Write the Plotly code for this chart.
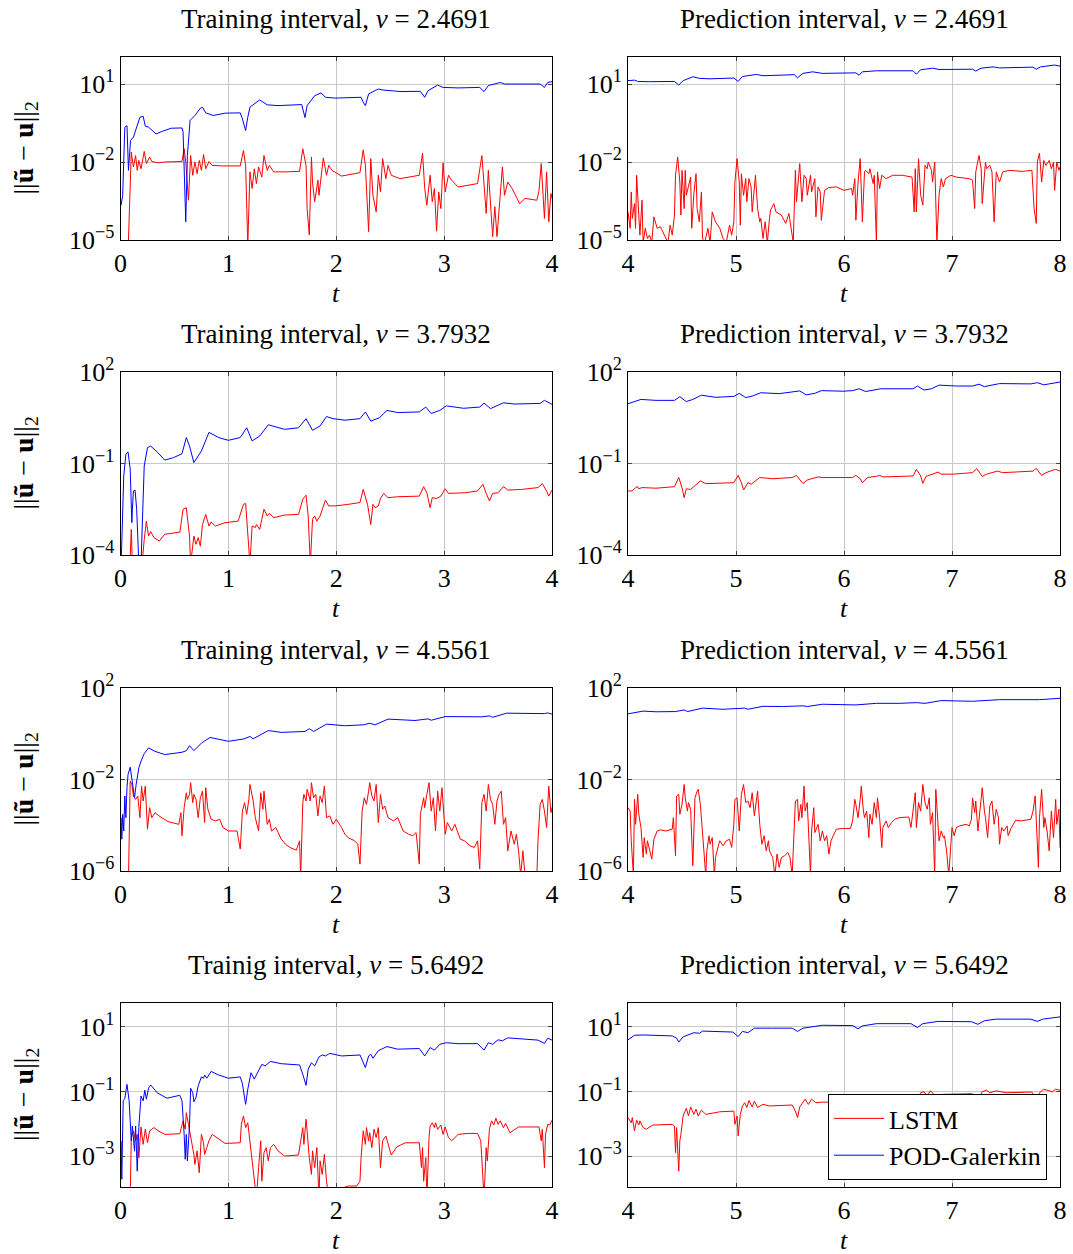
import plotly.graph_objects as go

# ---------------- data (t, log10 of error) ----------------
nu_values = ["2.4691", "3.7932", "4.5561", "5.6492"]
train_titles = ["Training interval", "Training interval", "Training interval", "Trainig interval"]
pred_title = "Prediction interval"
legend_names = ["LSTM", "POD-Galerkin"]

train1_pod = [(0.006,-3.66),(0.02,-3.28),(0.04,-0.66),(0.06,-0.6),(0.074,-2.32),(0.093,-1.17),(0.12,-1.04),(0.15,-0.66),(0.18,-0.28),(0.21,-0.24),(0.23,-0.62),(0.26,-0.66),(0.33,-0.92),(0.38,-0.83),(0.47,-0.70),(0.57,-0.69),(0.58,-0.85),(0.605,-4.30),(0.62,-1.75),(0.645,-0.40),(0.69,-0.21),(0.74,0.07),(0.76,0.11),(0.79,-0.11),(0.86,-0.21),(0.97,-0.12),(1.11,-0.11),(1.13,-0.34),(1.16,-0.79),(1.18,-0.28),(1.20,0.11),(1.29,0.39),(1.36,0.20),(1.46,0.17),(1.68,0.21),(1.69,0.04),(1.71,-0.29),(1.73,0.17),(1.80,0.55),(1.86,0.66),(1.90,0.49),(1.99,0.46),(2.23,0.49),(2.25,0.30),(2.27,0.17),(2.30,0.62),(2.39,0.81),(2.43,0.77),(2.60,0.71),(2.78,0.72),(2.82,0.49),(2.85,0.74),(2.94,0.96),(2.99,0.87),(3.13,0.85),(3.33,0.87),(3.37,0.71),(3.41,0.94),(3.52,1.06),(3.56,1.0),(3.89,1.0),(3.93,0.87),(3.96,1.06),(4.0,1.09)]
train1_lstm = [(0.07,-5.5),(0.1,-1.62),(0.12,-2.19),(0.14,-1.75),(0.155,-2.32),(0.17,-1.94),(0.19,-2.26),(0.22,-1.59),(0.24,-2.06),(0.27,-1.81),(0.29,-1.98),(0.35,-2.03),(0.41,-2.0),(0.57,-1.98),(0.59,-1.49),(0.605,-2.0),(0.63,-3.47),(0.65,-1.75),(0.67,-2.51),(0.69,-2.0),(0.71,-2.45),(0.73,-1.94),(0.75,-2.32),(0.77,-1.71),(0.79,-2.26),(0.82,-1.98),(0.85,-2.13),(0.94,-2.15),(1.11,-2.15),(1.14,-1.55),(1.16,-2.13),(1.18,-5.2),(1.20,-2.38),(1.22,-3.02),(1.24,-2.26),(1.26,-2.83),(1.28,-2.19),(1.31,-2.58),(1.33,-1.75),(1.36,-2.32),(1.38,-2.13),(1.42,-2.38),(1.52,-2.38),(1.66,-2.36),(1.69,-1.49),(1.72,-2.13),(1.73,-3.79),(1.75,-4.81),(1.77,-1.81),(1.78,-2.77),(1.80,-3.53),(1.83,-2.70),(1.84,-3.28),(1.86,-2.51),(1.88,-1.84),(1.91,-2.51),(1.93,-2.13),(1.96,-2.32),(2.05,-2.54),(2.22,-2.41),(2.25,-1.53),(2.27,-2.13),(2.29,-3.53),(2.30,-4.68),(2.32,-1.87),(2.34,-3.28),(2.37,-3.92),(2.39,-2.51),(2.41,-3.15),(2.43,-1.87),(2.46,-2.64),(2.48,-2.13),(2.51,-2.51),(2.59,-2.64),(2.77,-2.51),(2.80,-1.66),(2.82,-3.02),(2.84,-3.66),(2.87,-2.51),(2.89,-3.53),(2.91,-3.02),(2.93,-4.66),(2.95,-3.15),(2.97,-3.79),(2.99,-2.03),(3.01,-3.15),(3.04,-2.51),(3.07,-2.70),(3.13,-2.96),(3.31,-2.83),(3.35,-1.75),(3.37,-2.77),(3.39,-3.98),(3.41,-2.32),(3.43,-3.53),(3.45,-4.87),(3.47,-3.72),(3.49,-4.87),(3.52,-3.28),(3.54,-2.19),(3.56,-3.28),(3.59,-2.77),(3.63,-3.02),(3.70,-3.60),(3.75,-3.40),(3.86,-3.47),(3.88,-3.09),(3.90,-2.06),(3.93,-4.17),(3.95,-2.38),(3.97,-4.30),(3.99,-3.21),(4.0,-3.40)]

pred1_pod = [(4.0,1.13),(4.06,1.15),(4.09,1.10),(4.20,1.09),(4.43,1.10),(4.47,0.96),(4.51,1.13),(4.60,1.28),(4.66,1.22),(4.75,1.20),(4.98,1.23),(5.02,1.10),(5.06,1.29),(5.19,1.37),(5.25,1.32),(5.54,1.36),(5.57,1.24),(5.62,1.41),(5.71,1.47),(5.80,1.41),(6.11,1.43),(6.14,1.34),(6.17,1.47),(6.30,1.51),(6.64,1.51),(6.67,1.38),(6.71,1.55),(6.82,1.61),(6.88,1.56),(7.19,1.57),(7.22,1.50),(7.27,1.61),(7.38,1.66),(7.44,1.62),(7.75,1.65),(7.78,1.57),(7.82,1.66),(7.95,1.73),(8.0,1.69)]
pred1_lstm = [(4.0,-3.92),(4.02,-4.55),(4.03,-3.15),(4.04,-4.17),(4.06,-3.60),(4.07,-4.55),(4.08,-2.51),(4.10,-3.92),(4.11,-4.81),(4.13,-3.47),(4.14,-5.1),(4.16,-4.55),(4.18,-4.94),(4.20,-4.81),(4.22,-5.1),(4.24,-4.11),(4.27,-4.55),(4.30,-4.49),(4.34,-4.81),(4.37,-5.1),(4.39,-4.43),(4.41,-4.81),(4.43,-4.04),(4.44,-2.51),(4.46,-1.81),(4.48,-2.77),(4.49,-4.04),(4.50,-2.32),(4.52,-3.79),(4.53,-2.32),(4.54,-3.28),(4.56,-2.90),(4.58,-2.58),(4.59,-4.55),(4.61,-3.21),(4.63,-2.45),(4.64,-3.79),(4.66,-4.30),(4.68,-3.15),(4.69,-4.94),(4.71,-5.1),(4.74,-4.55),(4.76,-5.1),(4.78,-3.92),(4.81,-4.30),(4.85,-4.55),(4.88,-4.94),(4.91,-5.1),(4.94,-4.43),(4.96,-4.81),(4.98,-4.30),(4.99,-2.77),(5.01,-1.87),(5.03,-2.77),(5.04,-4.43),(5.05,-2.45),(5.07,-3.28),(5.09,-2.64),(5.10,-3.53),(5.12,-2.64),(5.14,-2.96),(5.15,-3.92),(5.17,-2.70),(5.18,-2.51),(5.20,-3.79),(5.22,-4.30),(5.23,-4.17),(5.25,-4.94),(5.27,-4.30),(5.29,-5.1),(5.31,-4.17),(5.32,-3.85),(5.35,-3.60),(5.37,-3.92),(5.42,-4.04),(5.46,-4.36),(5.49,-3.98),(5.51,-4.55),(5.53,-5.1),(5.55,-2.32),(5.56,-3.53),(5.59,-2.06),(5.61,-3.53),(5.63,-2.51),(5.65,-2.64),(5.66,-3.28),(5.69,-2.51),(5.70,-3.15),(5.73,-2.64),(5.74,-4.11),(5.76,-2.96),(5.78,-3.15),(5.79,-4.24),(5.82,-3.09),(5.86,-2.98),(5.93,-2.96),(6.0,-3.09),(6.07,-3.02),(6.08,-3.28),(6.10,-2.64),(6.11,-4.24),(6.13,-2.77),(6.15,-1.87),(6.17,-4.30),(6.19,-2.38),(6.20,-2.32),(6.23,-2.45),(6.24,-2.26),(6.27,-2.83),(6.28,-2.51),(6.30,-5.1),(6.31,-2.38),(6.33,-3.02),(6.35,-2.51),(6.39,-2.64),(6.45,-2.51),(6.54,-2.51),(6.63,-2.58),(6.65,-3.92),(6.66,-2.26),(6.67,-3.92),(6.69,-1.87),(6.71,-3.28),(6.73,-3.66),(6.75,-2.13),(6.77,-2.26),(6.78,-2.0),(6.81,-2.32),(6.82,-2.77),(6.84,-2.0),(6.86,-5.1),(6.88,-3.28),(6.90,-2.64),(6.92,-2.96),(6.94,-2.64),(6.99,-2.51),(7.04,-2.58),(7.16,-2.64),(7.19,-2.70),(7.21,-3.79),(7.22,-2.38),(7.25,-1.75),(7.27,-2.26),(7.28,-3.60),(7.31,-2.0),(7.32,-2.26),(7.35,-2.13),(7.37,-2.38),(7.39,-4.30),(7.41,-2.38),(7.44,-2.77),(7.47,-2.38),(7.53,-2.32),(7.65,-2.36),(7.74,-2.32),(7.76,-3.79),(7.78,-4.36),(7.79,-2.0),(7.81,-1.66),(7.83,-2.77),(7.85,-1.94),(7.87,-2.13),(7.90,-1.94),(7.92,-2.26),(7.94,-2.0),(7.95,-3.09),(7.97,-2.0),(7.99,-2.32),(8.0,-2.19)]

train2_pod = [(0.006,-4.3),(0.03,-1.41),(0.05,-0.70),(0.07,-0.62),(0.09,-1.19),(0.105,-2.94),(0.11,-2.50),(0.12,-1.90),(0.135,-1.87),(0.15,-2.50),(0.17,-4.3),(0.19,-4.3),(0.22,-1.08),(0.25,-0.48),(0.28,-0.43),(0.34,-0.62),(0.41,-0.89),(0.49,-0.81),(0.57,-0.68),(0.61,-0.15),(0.64,-0.43),(0.68,-0.97),(0.75,-0.59),(0.82,0.02),(0.91,-0.15),(1.0,-0.24),(1.11,-0.15),(1.17,0.17),(1.22,-0.26),(1.29,-0.10),(1.37,0.27),(1.52,0.12),(1.65,0.17),(1.72,0.47),(1.78,0.09),(1.85,0.23),(1.91,0.54),(1.97,0.47),(2.08,0.42),(2.22,0.47),(2.27,0.69),(2.32,0.39),(2.40,0.50),(2.47,0.74),(2.57,0.67),(2.77,0.69),(2.83,0.85),(2.88,0.64),(2.96,0.74),(3.02,0.89),(3.18,0.81),(3.33,0.85),(3.37,0.98),(3.43,0.80),(3.55,0.99),(3.65,0.95),(3.89,0.97),(3.93,1.07),(4.0,0.94)]
train2_lstm = [(0.087,-4.3),(0.10,-3.16),(0.11,-4.3),(0.20,-4.3),(0.22,-3.49),(0.24,-2.89),(0.26,-3.38),(0.28,-3.23),(0.31,-3.43),(0.36,-3.54),(0.41,-3.32),(0.55,-3.25),(0.58,-2.50),(0.61,-2.45),(0.64,-3.38),(0.65,-4.3),(0.68,-3.38),(0.70,-3.65),(0.72,-3.43),(0.74,-3.71),(0.76,-3.0),(0.79,-2.67),(0.82,-3.05),(0.84,-2.92),(0.88,-3.05),(0.97,-2.94),(1.09,-2.89),(1.14,-2.34),(1.16,-2.31),(1.18,-3.16),(1.20,-4.3),(1.22,-3.05),(1.25,-3.10),(1.26,-3.0),(1.29,-3.16),(1.31,-2.83),(1.33,-2.50),(1.36,-2.72),(1.38,-2.63),(1.42,-2.78),(1.52,-2.69),(1.65,-2.67),(1.69,-2.17),(1.72,-2.04),(1.74,-2.72),(1.76,-4.3),(1.78,-2.83),(1.80,-2.72),(1.82,-2.89),(1.85,-2.72),(1.88,-2.42),(1.90,-2.20),(1.93,-2.39),(1.99,-2.39),(2.11,-2.34),(2.22,-2.28),(2.25,-1.85),(2.29,-2.34),(2.32,-3.0),(2.34,-2.34),(2.36,-2.45),(2.39,-2.39),(2.41,-2.15),(2.44,-1.98),(2.48,-2.12),(2.57,-2.09),(2.77,-2.07),(2.81,-1.76),(2.84,-1.96),(2.87,-2.45),(2.89,-2.12),(2.93,-2.15),(2.97,-2.07),(3.01,-1.83),(3.04,-1.98),(3.19,-1.96),(3.31,-1.90),(3.36,-1.68),(3.39,-1.98),(3.42,-2.23),(3.45,-1.98),(3.50,-1.96),(3.55,-1.76),(3.59,-1.87),(3.72,-1.85),(3.87,-1.79),(3.91,-1.66),(3.95,-1.90),(3.97,-2.07),(4.0,-1.87)]

pred2_pod = [(4.0,0.96),(4.06,1.02),(4.12,1.10),(4.26,1.07),(4.43,1.07),(4.48,1.19),(4.54,1.03),(4.60,1.10),(4.68,1.24),(4.81,1.17),(4.98,1.20),(5.03,1.30),(5.09,1.16),(5.15,1.21),(5.23,1.32),(5.40,1.29),(5.54,1.34),(5.59,1.38),(5.65,1.25),(5.73,1.30),(5.79,1.39),(5.99,1.37),(6.08,1.39),(6.14,1.45),(6.20,1.36),(6.34,1.45),(6.64,1.45),(6.68,1.54),(6.74,1.41),(6.81,1.45),(6.88,1.57),(7.04,1.54),(7.19,1.54),(7.25,1.60),(7.30,1.52),(7.44,1.62),(7.73,1.61),(7.79,1.65),(7.85,1.58),(7.93,1.62),(8.0,1.67)]
pred2_lstm = [(4.0,-1.90),(4.04,-1.90),(4.07,-1.79),(4.09,-1.76),(4.10,-1.83),(4.13,-1.79),(4.26,-1.81),(4.43,-1.76),(4.47,-1.46),(4.50,-1.79),(4.52,-2.12),(4.54,-1.83),(4.58,-1.85),(4.61,-1.76),(4.67,-1.57),(4.72,-1.66),(4.98,-1.63),(5.02,-1.39),(5.05,-1.63),(5.07,-1.87),(5.11,-1.63),(5.14,-1.68),(5.22,-1.46),(5.34,-1.50),(5.52,-1.46),(5.56,-1.39),(5.59,-1.52),(5.62,-1.66),(5.66,-1.54),(5.76,-1.44),(5.80,-1.46),(6.08,-1.46),(6.11,-1.39),(6.15,-1.50),(6.17,-1.63),(6.22,-1.46),(6.30,-1.42),(6.33,-1.39),(6.36,-1.44),(6.64,-1.41),(6.67,-1.19),(6.71,-1.41),(6.73,-1.65),(6.76,-1.42),(6.82,-1.35),(6.87,-1.28),(6.90,-1.35),(7.01,-1.35),(7.19,-1.30),(7.23,-1.17),(7.28,-1.42),(7.32,-1.35),(7.42,-1.25),(7.47,-1.30),(7.75,-1.25),(7.78,-1.16),(7.83,-1.39),(7.87,-1.30),(7.96,-1.19),(8.0,-1.25)]

train3_pod = [(0.006,-3.67),(0.012,-4.61),(0.02,-3.52),(0.03,-4.25),(0.04,-2.72),(0.05,-3.67),(0.06,-2.36),(0.07,-1.78),(0.09,-1.46),(0.11,-2.07),(0.13,-2.80),(0.145,-2.22),(0.17,-1.49),(0.19,-1.20),(0.22,-0.87),(0.26,-0.62),(0.32,-0.77),(0.41,-0.91),(0.57,-0.81),(0.61,-0.74),(0.64,-0.52),(0.68,-0.74),(0.75,-0.41),(0.83,-0.16),(0.91,-0.23),(1.0,-0.33),(1.14,-0.23),(1.20,-0.12),(1.23,-0.22),(1.37,0.14),(1.49,0.06),(1.71,0.10),(1.75,0.22),(1.79,0.10),(1.91,0.42),(2.08,0.35),(2.25,0.39),(2.31,0.46),(2.36,0.39),(2.48,0.64),(2.73,0.58),(2.85,0.65),(2.88,0.59),(3.01,0.75),(3.35,0.74),(3.42,0.78),(3.45,0.72),(3.58,0.90),(3.93,0.88),(3.96,0.91),(4.0,0.86)]
train3_lstm = [(0.074,-6.3),(0.09,-2.07),(0.105,-2.22),(0.12,-2.72),(0.14,-2.87),(0.16,-2.72),(0.18,-3.67),(0.195,-2.29),(0.21,-2.94),(0.23,-2.29),(0.25,-4.17),(0.27,-3.23),(0.29,-3.67),(0.32,-3.45),(0.35,-3.57),(0.40,-3.74),(0.44,-3.84),(0.54,-3.96),(0.56,-3.45),(0.57,-4.46),(0.59,-3.23),(0.61,-2.58),(0.62,-2.87),(0.64,-2.65),(0.65,-2.14),(0.67,-3.01),(0.68,-2.65),(0.70,-2.87),(0.72,-3.67),(0.74,-2.80),(0.76,-2.51),(0.78,-3.88),(0.79,-2.36),(0.81,-3.30),(0.84,-3.74),(0.88,-3.81),(0.92,-3.74),(0.95,-4.10),(1.0,-4.25),(1.08,-4.25),(1.11,-5.04),(1.13,-3.38),(1.15,-3.01),(1.17,-3.52),(1.19,-2.87),(1.20,-2.22),(1.22,-2.72),(1.23,-2.94),(1.25,-3.67),(1.28,-4.25),(1.30,-2.58),(1.32,-3.30),(1.33,-2.51),(1.36,-3.96),(1.38,-3.74),(1.40,-4.25),(1.44,-4.10),(1.46,-4.32),(1.49,-4.61),(1.53,-4.83),(1.57,-4.97),(1.63,-5.09),(1.66,-4.68),(1.67,-6.3),(1.69,-3.01),(1.70,-2.65),(1.72,-2.94),(1.73,-2.43),(1.76,-2.94),(1.77,-2.14),(1.79,-2.80),(1.81,-2.65),(1.83,-3.59),(1.85,-2.72),(1.87,-3.01),(1.89,-2.29),(1.91,-3.67),(1.94,-3.59),(1.97,-3.96),(2.0,-3.74),(2.05,-4.10),(2.08,-4.39),(2.11,-4.54),(2.17,-4.68),(2.20,-4.83),(2.22,-5.70),(2.24,-3.38),(2.26,-2.80),(2.28,-3.09),(2.30,-2.51),(2.31,-2.14),(2.33,-2.72),(2.35,-2.94),(2.37,-2.22),(2.39,-3.88),(2.41,-2.65),(2.43,-3.30),(2.45,-3.16),(2.48,-3.67),(2.53,-3.81),(2.57,-3.67),(2.62,-4.25),(2.67,-4.39),(2.71,-4.46),(2.74,-4.32),(2.77,-5.70),(2.78,-3.52),(2.81,-2.80),(2.82,-3.23),(2.84,-2.65),(2.86,-2.14),(2.88,-3.38),(2.90,-2.80),(2.92,-4.25),(2.94,-2.51),(2.96,-3.38),(2.98,-2.36),(3.01,-4.39),(3.03,-3.88),(3.07,-4.25),(3.10,-3.96),(3.15,-4.61),(3.19,-4.68),(3.24,-4.90),(3.28,-4.97),(3.31,-4.68),(3.33,-5.91),(3.35,-3.01),(3.37,-2.65),(3.39,-3.38),(3.41,-2.22),(3.43,-2.87),(3.45,-3.09),(3.47,-3.96),(3.49,-2.94),(3.51,-2.65),(3.53,-2.51),(3.55,-3.96),(3.57,-3.67),(3.59,-5.12),(3.62,-4.25),(3.65,-4.83),(3.67,-4.39),(3.69,-5.12),(3.71,-6.2),(3.73,-5.12),(3.75,-6.2),(3.86,-6.2),(3.87,-4.68),(3.89,-3.09),(3.91,-2.87),(3.93,-3.38),(3.95,-4.10),(3.97,-2.29),(3.99,-3.45),(4.0,-3.23)]

pred3_pod = [(4.0,0.87),(4.14,0.99),(4.26,0.96),(4.44,0.97),(4.52,1.04),(4.55,0.97),(4.69,1.12),(4.88,1.07),(5.0,1.10),(5.08,1.12),(5.11,1.07),(5.25,1.20),(5.43,1.19),(5.62,1.22),(5.66,1.19),(5.80,1.29),(6.11,1.26),(6.30,1.33),(6.51,1.33),(6.67,1.36),(6.75,1.33),(6.90,1.45),(7.19,1.42),(7.44,1.49),(7.81,1.49),(8.0,1.55)]
pred3_lstm = [(4.0,-3.23),(4.02,-3.38),(4.03,-4.68),(4.05,-6.2),(4.06,-2.87),(4.07,-3.96),(4.09,-2.65),(4.10,-3.52),(4.12,-4.10),(4.14,-5.41),(4.15,-4.54),(4.17,-5.26),(4.18,-4.68),(4.20,-5.12),(4.22,-5.48),(4.24,-4.61),(4.27,-4.25),(4.30,-4.20),(4.35,-4.25),(4.41,-4.17),(4.42,-3.67),(4.44,-5.33),(4.45,-2.72),(4.47,-2.65),(4.48,-3.52),(4.50,-3.09),(4.52,-2.22),(4.53,-2.80),(4.55,-3.38),(4.56,-3.01),(4.58,-3.30),(4.60,-5.77),(4.62,-2.80),(4.64,-2.51),(4.65,-2.43),(4.67,-3.09),(4.68,-3.67),(4.70,-4.61),(4.72,-6.2),(4.73,-5.12),(4.75,-4.46),(4.76,-4.83),(4.78,-4.54),(4.80,-6.2),(4.81,-5.41),(4.84,-4.83),(4.85,-4.68),(4.88,-4.90),(4.91,-4.68),(4.94,-4.61),(4.96,-4.97),(4.98,-3.96),(4.99,-2.87),(5.01,-2.80),(5.03,-4.25),(5.05,-2.65),(5.07,-2.22),(5.09,-3.01),(5.11,-2.94),(5.13,-3.23),(5.15,-2.58),(5.17,-3.59),(5.19,-2.72),(5.20,-2.51),(5.22,-3.96),(5.24,-4.83),(5.26,-4.46),(5.28,-5.12),(5.30,-4.68),(5.31,-5.12),(5.34,-5.41),(5.36,-6.2),(5.38,-5.26),(5.40,-5.84),(5.42,-5.41),(5.45,-5.33),(5.48,-5.19),(5.50,-5.41),(5.52,-6.2),(5.54,-4.39),(5.55,-2.94),(5.57,-2.87),(5.58,-3.81),(5.60,-3.09),(5.61,-3.67),(5.63,-2.29),(5.64,-3.38),(5.66,-3.01),(5.67,-3.88),(5.69,-6.2),(5.70,-4.25),(5.72,-3.23),(5.73,-4.32),(5.76,-3.96),(5.78,-4.68),(5.80,-4.25),(5.82,-4.68),(5.84,-4.46),(5.86,-5.26),(5.88,-4.68),(5.90,-4.46),(5.93,-4.17),(5.99,-4.14),(6.06,-4.14),(6.08,-3.81),(6.10,-2.87),(6.11,-3.09),(6.13,-3.67),(6.15,-2.87),(6.16,-2.29),(6.18,-3.38),(6.19,-3.67),(6.21,-3.38),(6.23,-4.54),(6.24,-3.52),(6.26,-3.96),(6.28,-3.01),(6.30,-3.67),(6.31,-2.80),(6.33,-3.67),(6.35,-4.97),(6.36,-4.10),(6.39,-3.81),(6.41,-4.10),(6.44,-3.88),(6.47,-3.74),(6.51,-3.67),(6.60,-3.64),(6.62,-4.10),(6.64,-3.30),(6.66,-2.58),(6.67,-4.10),(6.69,-3.01),(6.71,-3.38),(6.73,-2.22),(6.75,-3.01),(6.77,-3.30),(6.79,-2.80),(6.80,-3.96),(6.82,-3.45),(6.84,-6.2),(6.85,-2.43),(6.87,-3.67),(6.88,-4.68),(6.90,-4.25),(6.92,-4.54),(6.93,-4.46),(6.95,-5.12),(6.97,-6.2),(6.98,-5.41),(7.0,-4.10),(7.02,-4.46),(7.04,-4.10),(7.07,-4.03),(7.13,-3.96),(7.16,-4.03),(7.18,-3.74),(7.19,-2.80),(7.21,-3.45),(7.22,-2.94),(7.24,-4.25),(7.26,-3.30),(7.28,-2.36),(7.30,-3.38),(7.31,-3.67),(7.33,-4.54),(7.35,-3.16),(7.37,-2.94),(7.39,-3.96),(7.41,-3.30),(7.43,-3.67),(7.44,-4.83),(7.46,-4.10),(7.48,-4.25),(7.51,-4.03),(7.52,-4.46),(7.55,-4.10),(7.59,-3.78),(7.64,-3.81),(7.73,-3.74),(7.75,-3.38),(7.77,-2.72),(7.78,-3.67),(7.80,-5.84),(7.81,-3.67),(7.83,-2.43),(7.85,-4.10),(7.86,-3.67),(7.88,-4.25),(7.90,-5.12),(7.92,-3.38),(7.94,-4.54),(7.96,-2.87),(7.97,-3.96),(7.99,-3.30),(8.0,-4.97)]

train4_pod = [(0.006,-2.53),(0.012,-3.72),(0.025,-1.29),(0.04,-1.22),(0.06,-0.78),(0.08,-1.29),(0.10,-2.53),(0.11,-2.07),(0.13,-2.85),(0.14,-2.07),(0.155,-3.47),(0.17,-2.12),(0.19,-1.14),(0.21,-1.29),(0.225,-0.96),(0.24,-1.24),(0.26,-0.90),(0.28,-0.80),(0.34,-1.04),(0.43,-1.21),(0.55,-1.12),(0.57,-1.29),(0.59,-2.33),(0.60,-3.10),(0.61,-2.33),(0.62,-3.15),(0.64,-2.02),(0.65,-0.90),(0.67,-1.04),(0.68,-1.32),(0.70,-1.19),(0.72,-0.83),(0.75,-0.55),(0.77,-0.59),(0.78,-0.49),(0.80,-0.59),(0.84,-0.38),(0.91,-0.49),(1.0,-0.59),(1.11,-0.55),(1.13,-0.76),(1.16,-1.40),(1.18,-0.93),(1.21,-0.42),(1.24,-0.62),(1.28,-0.36),(1.31,-0.16),(1.34,-0.21),(1.39,-0.07),(1.49,-0.14),(1.66,-0.18),(1.69,-0.47),(1.72,-0.81),(1.74,-0.31),(1.77,-0.11),(1.80,-0.21),(1.84,0.07),(1.87,0.13),(1.90,0.10),(1.94,0.18),(2.05,0.10),(2.22,0.13),(2.25,-0.11),(2.27,-0.26),(2.30,0.10),(2.32,0.15),(2.34,0.03),(2.39,0.26),(2.42,0.31),(2.47,0.39),(2.57,0.31),(2.77,0.33),(2.82,0.10),(2.87,0.36),(2.91,0.28),(2.96,0.46),(3.02,0.51),(3.13,0.48),(3.31,0.48),(3.37,0.28),(3.41,0.51),(3.45,0.46),(3.50,0.60),(3.54,0.57),(3.59,0.66),(3.72,0.62),(3.87,0.59),(3.93,0.49),(3.96,0.65),(4.0,0.59)]
train4_lstm = [(0.09,-4.3),(0.10,-2.43),(0.12,-2.22),(0.14,-2.53),(0.155,-2.33),(0.17,-3.05),(0.19,-2.10),(0.21,-2.64),(0.23,-2.17),(0.25,-2.59),(0.27,-2.22),(0.31,-2.12),(0.35,-2.22),(0.41,-2.33),(0.55,-2.31),(0.58,-1.91),(0.60,-2.17),(0.61,-1.66),(0.63,-2.02),(0.64,-2.22),(0.66,-2.48),(0.68,-2.95),(0.69,-3.26),(0.71,-2.84),(0.73,-3.52),(0.75,-2.33),(0.77,-2.59),(0.78,-2.95),(0.80,-2.74),(0.82,-2.53),(0.85,-2.33),(0.91,-2.48),(0.97,-2.61),(1.11,-2.59),(1.12,-2.02),(1.14,-1.76),(1.16,-2.12),(1.18,-1.97),(1.20,-2.64),(1.22,-3.15),(1.24,-3.78),(1.26,-4.3),(1.28,-3.36),(1.30,-2.53),(1.31,-3.78),(1.33,-2.90),(1.35,-2.74),(1.37,-3.15),(1.39,-2.74),(1.42,-2.64),(1.46,-2.84),(1.52,-3.0),(1.65,-2.97),(1.67,-2.53),(1.69,-2.12),(1.70,-2.64),(1.72,-1.86),(1.73,-2.22),(1.75,-3.05),(1.77,-3.57),(1.78,-2.84),(1.80,-3.36),(1.82,-2.74),(1.84,-4.3),(1.85,-3.15),(1.87,-3.57),(1.89,-2.95),(1.91,-3.78),(1.93,-4.3),(2.05,-4.0),(2.11,-3.93),(2.19,-3.93),(2.22,-3.78),(2.23,-3.05),(2.25,-2.22),(2.27,-2.64),(2.28,-2.12),(2.30,-2.53),(2.31,-2.28),(2.33,-2.74),(2.35,-2.17),(2.37,-2.43),(2.39,-2.12),(2.41,-3.36),(2.43,-2.53),(2.46,-2.38),(2.48,-2.64),(2.51,-2.97),(2.56,-2.72),(2.64,-2.59),(2.77,-2.59),(2.79,-3.36),(2.80,-2.74),(2.81,-3.78),(2.83,-3.05),(2.84,-4.3),(2.86,-2.43),(2.87,-2.07),(2.89,-1.97),(2.91,-2.12),(2.92,-1.97),(2.94,-2.17),(2.97,-2.04),(2.99,-2.33),(3.01,-2.10),(3.04,-2.43),(3.07,-2.53),(3.13,-2.33),(3.22,-2.30),(3.31,-2.30),(3.34,-2.53),(3.35,-3.26),(3.37,-4.3),(3.39,-2.74),(3.40,-3.15),(3.42,-2.17),(3.44,-1.91),(3.46,-2.04),(3.48,-1.83),(3.50,-2.02),(3.52,-1.91),(3.55,-2.12),(3.57,-1.99),(3.61,-2.28),(3.69,-2.10),(3.88,-2.10),(3.90,-2.53),(3.91,-2.17),(3.93,-3.36),(3.94,-2.33),(3.96,-2.02),(3.98,-2.04),(4.0,-1.89)]

pred4_pod = [(4.0,0.60),(4.06,0.74),(4.14,0.75),(4.41,0.72),(4.45,0.65),(4.47,0.53),(4.51,0.69),(4.57,0.77),(4.61,0.82),(4.66,0.80),(4.69,0.87),(4.97,0.84),(5.0,0.77),(5.02,0.70),(5.06,0.86),(5.11,0.82),(5.17,0.96),(5.25,0.95),(5.34,0.96),(5.52,0.96),(5.57,0.86),(5.62,0.96),(5.73,1.02),(5.80,1.05),(6.08,1.04),(6.13,0.94),(6.17,1.03),(6.30,1.10),(6.62,1.10),(6.68,0.98),(6.73,1.10),(6.87,1.17),(7.18,1.16),(7.24,1.08),(7.30,1.19),(7.41,1.24),(7.73,1.24),(7.79,1.17),(7.84,1.24),(8.0,1.31)]
pred4_lstm = [(4.0,-1.81),(4.03,-1.97),(4.04,-1.81),(4.06,-2.22),(4.08,-1.89),(4.10,-2.04),(4.11,-1.91),(4.14,-2.12),(4.17,-2.17),(4.23,-2.04),(4.41,-2.02),(4.43,-2.07),(4.44,-2.90),(4.45,-2.12),(4.47,-3.47),(4.48,-2.53),(4.49,-2.33),(4.51,-1.76),(4.54,-1.52),(4.56,-1.76),(4.58,-1.48),(4.61,-1.71),(4.63,-1.55),(4.65,-1.76),(4.68,-1.58),(4.72,-1.71),(4.85,-1.63),(4.98,-1.61),(4.99,-2.02),(5.01,-1.76),(5.02,-2.38),(5.04,-1.71),(5.06,-1.45),(5.08,-1.35),(5.10,-1.50),(5.12,-1.28),(5.15,-1.48),(5.17,-1.30),(5.20,-1.50),(5.25,-1.40),(5.31,-1.45),(5.52,-1.42),(5.55,-1.61),(5.57,-1.81),(5.59,-1.48),(5.62,-1.35),(5.64,-1.24),(5.67,-1.40),(5.70,-1.24),(5.74,-1.35),(5.80,-1.33),(6.11,-1.35),(6.14,-1.45),(6.17,-1.30),(6.19,-1.21),(6.23,-1.28),(6.30,-1.21),(6.34,-1.30),(6.42,-1.25),(6.64,-1.28),(6.66,-1.50),(6.67,-1.30),(6.69,-1.14),(6.71,-1.04),(6.74,-1.01),(6.77,-1.14),(6.80,-0.98),(6.84,-1.12),(6.91,-1.09),(7.19,-1.07),(7.21,-1.24),(7.23,-1.35),(7.25,-1.19),(7.28,-1.01),(7.32,-0.96),(7.35,-1.04),(7.41,-0.98),(7.50,-1.04),(7.74,-1.02),(7.76,-1.14),(7.79,-1.24),(7.81,-1.04),(7.85,-0.93),(7.89,-0.96),(7.93,-1.01),(7.96,-0.93),(8.0,-0.96)]

# y-axis ranges (log10) and labelled decades for each row
row_yrange = [(-5.0, 2.04), (-4.0, 2.0), (-6.0, 2.0), (-3.96, 1.74)]
row_ytick_exps = [[-5, -2, 1], [-4, -1, 2], [-6, -2, 2], [-3, -1, 1]]
x_ranges = [(0, 4), (4, 8)]
x_tick_vals = [[0, 1, 2, 3, 4], [4, 5, 6, 7, 8]]

series = [
    (train1_lstm, train1_pod), (pred1_lstm, pred1_pod),
    (train2_lstm, train2_pod), (pred2_lstm, pred2_pod),
    (train3_lstm, train3_pod), (pred3_lstm, pred3_pod),
    (train4_lstm, train4_pod), (pred4_lstm, pred4_pod),
]

# ---------------- layout geometry (pixels) ----------------
W, H = 1073, 1254
col_px = [(120.5, 552.0), (628.0, 1060.0)]
row_px = [(57, 240), (372, 555), (688, 871), (1003, 1187)]
FONT = "Liberation Serif"
FS = 26

fig = go.Figure()
layout = dict(width=W, height=H, margin=dict(l=0, r=0, t=0, b=0, autoexpand=False),
              paper_bgcolor="white", plot_bgcolor="white",
              font=dict(family=FONT, size=FS, color="black"),
              showlegend=True)
annotations = []


def sup(e):
    s = str(e).replace("-", "\u2212")
    return "10<sup>" + s + "</sup>"


for r in range(4):
    for c in range(2):
        k = r * 2 + c + 1
        xa = "x" if k == 1 else f"x{k}"
        ya = "y" if k == 1 else f"y{k}"
        lstm, pod = series[k - 1]
        for data, color, name, idx in ((lstm, "#ff0000", legend_names[0], 0), (pod, "#0000ff", legend_names[1], 1)):
            fig.add_trace(go.Scatter(
                x=[p[0] for p in data], y=[10 ** p[1] for p in data],
                mode="lines", line=dict(color=color, width=1),
                name=name, showlegend=(k == 8), legendrank=idx,
                xaxis=xa, yaxis=ya))
        x0, x1 = col_px[c]
        y0, y1 = row_px[r]
        lo, hi = row_yrange[r]
        layout["xaxis" if k == 1 else f"xaxis{k}"] = dict(
            domain=[x0 / W, x1 / W], anchor=ya, range=list(x_ranges[c]),
            tickvals=x_tick_vals[c], ticktext=[str(v) for v in x_tick_vals[c]],
            ticks="inside", ticklen=4, tickcolor="#444", mirror="ticks",
            showline=True, linecolor="black", linewidth=1, automargin=False,
            showgrid=True, gridcolor="#c8c8c8", gridwidth=1, zeroline=False,
            tickfont=dict(family=FONT, size=FS))
        exps = row_ytick_exps[r]
        layout["yaxis" if k == 1 else f"yaxis{k}"] = dict(
            domain=[1 - y1 / H, 1 - y0 / H], anchor=xa, type="log",
            range=[lo, hi], tickvals=[10 ** e for e in exps],
            ticktext=[sup(e) for e in exps],
            ticks="inside", ticklen=4, tickcolor="#444", mirror="ticks",
            showline=True, linecolor="black", linewidth=1, automargin=False,
            showgrid=True, gridcolor="#c8c8c8", gridwidth=1, zeroline=False,
            tickfont=dict(family=FONT, size=FS))
        # subplot title
        ttl = (train_titles[r] if c == 0 else pred_title) + ", <i>ν</i> = " + nu_values[r]
        annotations.append(dict(text=ttl, xref="paper", yref="paper",
                                x=(x0 + x1) / 2 / W, y=1 - (y0 - 38) / H,
                                xanchor="center", yanchor="middle", showarrow=False,
                                font=dict(family=FONT, size=27)))
        # x-axis title
        annotations.append(dict(text="<i>t</i>", xref="paper", yref="paper",
                                x=(x0 + x1) / 2 / W, y=1 - (y1 + 53) / H,
                                xanchor="center", yanchor="middle", showarrow=False,
                                font=dict(family=FONT, size=FS)))
    # y-axis title (left column only)
    y0, y1 = row_px[r]
    annotations.append(dict(text="||<b>ũ</b> − <b>u</b>||<sub>2</sub>", xref="paper", yref="paper",
                            x=25 / W, y=1 - (y0 + y1) / 2 / H, textangle=-90,
                            xanchor="center", yanchor="middle", showarrow=False,
                            font=dict(family=FONT, size=28)))

layout["annotations"] = annotations
layout["legend"] = dict(x=1047 / W, y=1 - 1180 / H, xanchor="right", yanchor="bottom",
                        bgcolor="white", bordercolor="black", borderwidth=1,
                        font=dict(family=FONT, size=26), traceorder="normal",
                        itemwidth=50, tracegroupgap=0)
fig.update_layout(**layout)
fig.write_html("out.html", config={"displayModeBar": False},
               post_script="document.body.style.margin='0';document.body.style.overflow='hidden';")
